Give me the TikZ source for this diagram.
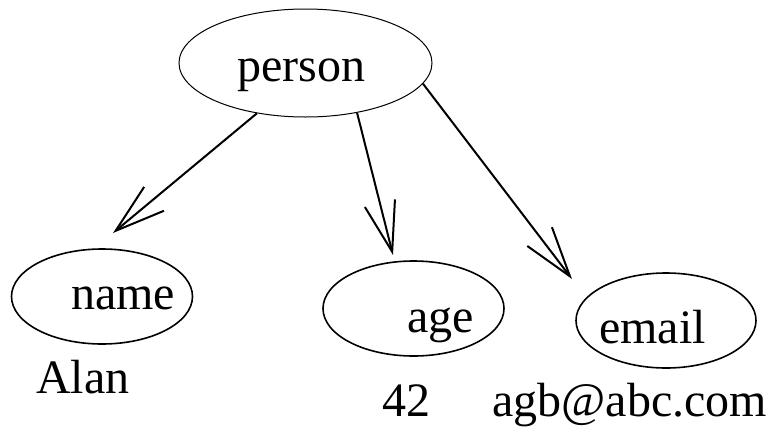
\documentclass[tikz,border=0pt]{standalone}
\usepackage{fontspec}
\setmainfont{Liberation Serif}
\usetikzlibrary{shapes.geometric,arrows.meta}
\begin{document}
\begin{tikzpicture}[x=1pt,y=-1pt,
  oval/.style={draw,ellipse,inner sep=0pt,line width=1.6pt},
  txt/.style={anchor=base west,inner sep=0pt,font=\fontsize{48}{50}\selectfont},
  link/.style={line width=2pt,-{Straight Barb[length=50pt,width=31pt]}}]
\useasboundingbox (0,0) rectangle (771,426);

% entity and its attributes
\node[oval,line width=1pt,minimum width=253pt,minimum height=108pt] (person) at (305.5,63) {};
\node[oval,minimum width=181pt,minimum height=95pt] (name) at (102,296.5) {};
\node[oval,minimum width=181pt,minimum height=95pt] (age) at (413.5,308.5) {};
\node[oval,minimum width=180pt,minimum height=95pt] (email) at (666,320.5) {};

% labels
\node[txt] (personlbl) at (237,81) {person};
\node[txt] (namelbl) at (71,309) {name};
\node[txt] (agelbl) at (407,332) {age};
\node[txt] (emaillbl) at (599,343) {email};
\node[txt] (alan) at (36,393) {Alan};
\node[txt] (val42) at (382,416) {42};
\node[txt] (mail) at (492,416) {agb@abc.com};

% arrow tips
\coordinate (t1) at (113,233);
\coordinate (t2) at (393,255);
\coordinate (t3) at (572,279);

\draw[link] (person.226) -- (t1);
\draw[link] (person.316) -- (t2);
\draw[link] (person.350) -- (t3);
\end{tikzpicture}
\end{document}
